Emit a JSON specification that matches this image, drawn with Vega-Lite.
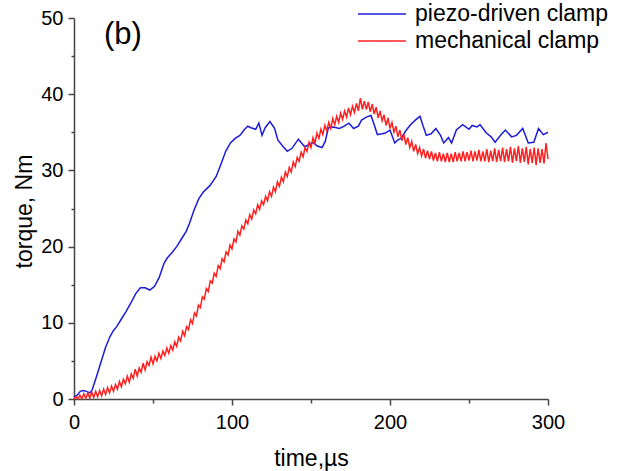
{
  "$schema": "https://vega.github.io/schema/vega-lite/v6.json",
  "width": 474,
  "height": 381,
  "autosize": {"type": "none"},
  "padding": {"left": 74, "top": 18, "right": 79, "bottom": 72},
  "background": "white",
  "config": {
    "view": {"stroke": null},
    "font": "Liberation Sans",
    "axis": {"grid": false, "domainColor": "#444444", "tickColor": "#444444", "domainWidth": 1.5, "tickWidth": 1.5, "labelColor": "black", "titleColor": "black", "labelFont": "Liberation Sans", "titleFont": "Liberation Sans", "labelFontSize": 20, "titleFontSize": 23, "titleFontWeight": "normal", "labelOverlap": false, "labelFlush": false, "tickSize": 6}
  },
  "datasets": {
    "piezo": [
      {"t":0,"v":0.2},{"t":2,"v":0.5},{"t":4,"v":1.0},{"t":6,"v":1.1},{"t":8,"v":1.0},{"t":10,"v":0.8},{"t":11.5,"v":1.2},{"t":14,"v":2.8},{"t":17,"v":4.8},{"t":20,"v":6.8},{"t":22.8,"v":8.2},{"t":25,"v":9.0},{"t":27,"v":9.5},{"t":30,"v":10.5},{"t":33,"v":11.5},{"t":36,"v":12.6},{"t":39,"v":13.8},{"t":42,"v":14.6},{"t":45,"v":14.6},{"t":48,"v":14.3},{"t":51,"v":14.8},{"t":54,"v":16.0},{"t":57,"v":17.8},{"t":59,"v":18.5},{"t":62,"v":19.2},{"t":65,"v":20.0},{"t":68,"v":21.0},{"t":71,"v":22.0},{"t":73,"v":23.0},{"t":76,"v":24.8},{"t":79,"v":26.3},{"t":82,"v":27.2},{"t":86,"v":28.0},{"t":90,"v":29.2},{"t":93,"v":30.8},{"t":96,"v":32.5},{"t":99,"v":33.6},{"t":102,"v":34.2},{"t":105,"v":34.6},{"t":108,"v":35.4},{"t":110,"v":35.8},{"t":112,"v":35.6},{"t":115,"v":35.4},{"t":117,"v":36.2},{"t":119,"v":34.6},{"t":121,"v":35.6},{"t":124,"v":36.4},{"t":127,"v":35.5},{"t":129,"v":34.0},{"t":132,"v":33.2},{"t":135,"v":32.5},{"t":138,"v":32.9},{"t":142,"v":34.1},{"t":144,"v":33.6},{"t":146,"v":33.1},{"t":149,"v":33.4},{"t":151,"v":33.7},{"t":154,"v":33.2},{"t":157,"v":33.0},{"t":159,"v":33.8},{"t":161,"v":35.6},{"t":164,"v":35.7},{"t":168,"v":35.5},{"t":171,"v":35.8},{"t":174,"v":36.2},{"t":177,"v":35.5},{"t":180,"v":35.8},{"t":182,"v":36.6},{"t":185,"v":37.0},{"t":188,"v":37.2},{"t":190,"v":36.0},{"t":192,"v":34.7},{"t":195,"v":34.8},{"t":197,"v":34.9},{"t":200,"v":35.3},{"t":203,"v":33.6},{"t":205,"v":34.0},{"t":207,"v":34.2},{"t":210,"v":35.2},{"t":213,"v":36.0},{"t":216,"v":36.6},{"t":219,"v":37.1},{"t":221,"v":35.8},{"t":223,"v":34.6},{"t":226,"v":34.8},{"t":229,"v":35.5},{"t":232,"v":34.6},{"t":234,"v":33.6},{"t":237,"v":34.3},{"t":239,"v":33.6},{"t":242,"v":35.3},{"t":246,"v":36.0},{"t":250,"v":35.4},{"t":252,"v":35.9},{"t":255,"v":35.7},{"t":257,"v":36.0},{"t":261,"v":34.9},{"t":264,"v":34.4},{"t":266.5,"v":33.7},{"t":270,"v":34.6},{"t":273,"v":35.3},{"t":277,"v":34.4},{"t":280,"v":34.6},{"t":284,"v":35.5},{"t":287.5,"v":33.6},{"t":291,"v":33.7},{"t":294,"v":35.5},{"t":297,"v":34.7},{"t":300,"v":35.0}
    ],
    "mech": [
      {"t":0,"v":0.0},{"t":1.25,"v":0.3},{"t":2.5,"v":0.0},{"t":3.75,"v":0.5},{"t":5,"v":0.0},{"t":6.25,"v":0.7},{"t":7.5,"v":0.1},{"t":8.75,"v":0.8},{"t":10,"v":0.1},{"t":11.25,"v":0.9},{"t":12.5,"v":0.2},{"t":13.75,"v":1.0},{"t":15,"v":0.3},{"t":16.25,"v":1.1},{"t":17.5,"v":0.4},{"t":18.75,"v":1.3},{"t":20,"v":0.6},{"t":21.25,"v":1.5},{"t":22.5,"v":0.8},{"t":23.75,"v":1.7},{"t":25,"v":1.0},{"t":26.25,"v":1.9},{"t":27.5,"v":1.3},{"t":28.75,"v":2.3},{"t":30,"v":1.6},{"t":31.25,"v":2.6},{"t":32.5,"v":2.0},{"t":33.75,"v":3.0},{"t":35,"v":2.2},{"t":36.25,"v":3.3},{"t":37.5,"v":2.7},{"t":38.75,"v":3.9},{"t":40,"v":3.0},{"t":41.25,"v":4.1},{"t":42.5,"v":3.5},{"t":43.75,"v":4.7},{"t":45,"v":3.8},{"t":46.25,"v":4.9},{"t":47.5,"v":4.4},{"t":48.75,"v":5.5},{"t":50,"v":4.6},{"t":51.25,"v":5.6},{"t":52.5,"v":5.0},{"t":53.75,"v":6.0},{"t":55,"v":5.3},{"t":56.25,"v":6.3},{"t":57.5,"v":5.7},{"t":58.75,"v":6.7},{"t":60,"v":6.0},{"t":61.25,"v":7.0},{"t":62.5,"v":6.4},{"t":63.75,"v":7.5},{"t":65,"v":6.9},{"t":66.25,"v":8.1},{"t":67.5,"v":7.6},{"t":68.75,"v":8.9},{"t":70,"v":8.3},{"t":71.25,"v":9.5},{"t":72.5,"v":9.1},{"t":73.75,"v":10.4},{"t":75,"v":9.9},{"t":76.25,"v":11.3},{"t":77.5,"v":10.9},{"t":78.75,"v":12.3},{"t":80,"v":12.0},{"t":81.25,"v":13.4},{"t":82.5,"v":13.1},{"t":83.75,"v":14.5},{"t":85,"v":14.1},{"t":86.25,"v":15.5},{"t":87.5,"v":15.2},{"t":88.75,"v":16.5},{"t":90,"v":16.1},{"t":91.25,"v":17.5},{"t":92.5,"v":17.1},{"t":93.75,"v":18.4},{"t":95,"v":18.0},{"t":96.25,"v":19.3},{"t":97.5,"v":18.9},{"t":98.75,"v":20.2},{"t":100,"v":19.7},{"t":101.25,"v":21.0},{"t":102.5,"v":20.6},{"t":103.75,"v":22.0},{"t":105,"v":21.5},{"t":106.25,"v":22.7},{"t":107.5,"v":22.3},{"t":108.75,"v":23.5},{"t":110,"v":23.0},{"t":111.25,"v":24.2},{"t":112.5,"v":23.6},{"t":113.75,"v":24.8},{"t":115,"v":24.3},{"t":116.25,"v":25.5},{"t":117.5,"v":24.9},{"t":118.75,"v":26.0},{"t":120,"v":25.5},{"t":121.25,"v":26.6},{"t":122.5,"v":26.0},{"t":123.75,"v":27.2},{"t":125,"v":26.6},{"t":126.25,"v":27.8},{"t":127.5,"v":27.2},{"t":128.75,"v":28.5},{"t":130,"v":27.9},{"t":131.25,"v":29.1},{"t":132.5,"v":28.5},{"t":133.75,"v":29.8},{"t":135,"v":29.2},{"t":136.25,"v":30.4},{"t":137.5,"v":29.8},{"t":138.75,"v":31.1},{"t":140,"v":30.5},{"t":141.25,"v":31.7},{"t":142.5,"v":31.2},{"t":143.75,"v":32.4},{"t":145,"v":31.8},{"t":146.25,"v":33.0},{"t":147.5,"v":32.5},{"t":148.75,"v":33.7},{"t":150,"v":33.0},{"t":151.25,"v":34.3},{"t":152.5,"v":33.6},{"t":153.75,"v":34.9},{"t":155,"v":34.2},{"t":156.25,"v":35.4},{"t":157.5,"v":34.7},{"t":158.75,"v":35.9},{"t":160,"v":35.2},{"t":161.25,"v":36.3},{"t":162.5,"v":35.5},{"t":163.75,"v":36.8},{"t":165,"v":36.0},{"t":166.25,"v":37.1},{"t":167.5,"v":36.3},{"t":168.75,"v":37.5},{"t":170,"v":36.7},{"t":171.25,"v":37.8},{"t":172.5,"v":37.0},{"t":173.75,"v":38.2},{"t":175,"v":37.3},{"t":176.25,"v":38.4},{"t":177.5,"v":37.6},{"t":178.75,"v":38.8},{"t":180,"v":37.8},{"t":181.25,"v":39.5},{"t":182.5,"v":38.0},{"t":183.75,"v":39.1},{"t":185,"v":38.0},{"t":186.25,"v":39.0},{"t":187.5,"v":37.7},{"t":188.75,"v":38.7},{"t":190,"v":37.4},{"t":191.25,"v":38.3},{"t":192.5,"v":36.9},{"t":193.75,"v":37.8},{"t":195,"v":36.5},{"t":196.25,"v":37.3},{"t":197.5,"v":35.9},{"t":198.75,"v":36.9},{"t":200,"v":35.5},{"t":201.25,"v":36.3},{"t":202.5,"v":35.0},{"t":203.75,"v":35.8},{"t":205,"v":34.4},{"t":206.25,"v":35.3},{"t":207.5,"v":33.9},{"t":208.75,"v":34.8},{"t":210,"v":33.4},{"t":211.25,"v":34.3},{"t":212.5,"v":33.0},{"t":213.75,"v":33.8},{"t":215,"v":32.5},{"t":216.25,"v":33.4},{"t":217.5,"v":32.2},{"t":218.75,"v":33.0},{"t":220,"v":31.9},{"t":221.25,"v":32.8},{"t":222.5,"v":31.6},{"t":223.75,"v":32.6},{"t":225,"v":31.5},{"t":226.25,"v":32.5},{"t":227.5,"v":31.3},{"t":228.75,"v":32.3},{"t":230,"v":31.2},{"t":231.25,"v":32.4},{"t":232.5,"v":31.2},{"t":233.75,"v":32.2},{"t":235,"v":31.1},{"t":236.25,"v":32.3},{"t":237.5,"v":31.1},{"t":238.75,"v":32.2},{"t":240,"v":31.1},{"t":241.25,"v":32.4},{"t":242.5,"v":31.2},{"t":243.75,"v":32.3},{"t":245,"v":31.2},{"t":246.25,"v":32.5},{"t":247.5,"v":31.2},{"t":248.75,"v":32.4},{"t":250,"v":31.3},{"t":251.25,"v":32.6},{"t":252.5,"v":31.2},{"t":253.75,"v":32.5},{"t":255,"v":31.3},{"t":256.25,"v":32.7},{"t":257.5,"v":31.2},{"t":258.75,"v":32.5},{"t":260,"v":31.2},{"t":261.25,"v":32.8},{"t":262.5,"v":31.1},{"t":263.75,"v":32.6},{"t":265,"v":31.2},{"t":266.25,"v":32.9},{"t":267.5,"v":31.1},{"t":268.75,"v":32.7},{"t":270,"v":31.2},{"t":271.25,"v":33.0},{"t":272.5,"v":31.1},{"t":273.75,"v":32.8},{"t":275,"v":31.2},{"t":276.25,"v":33.1},{"t":277.5,"v":31.0},{"t":278.75,"v":32.9},{"t":280,"v":31.2},{"t":281.25,"v":33.2},{"t":282.5,"v":31.0},{"t":283.75,"v":32.9},{"t":285,"v":31.1},{"t":286.25,"v":33.1},{"t":287.5,"v":30.8},{"t":288.75,"v":32.8},{"t":290,"v":31.0},{"t":291.25,"v":33.0},{"t":292.5,"v":30.7},{"t":293.75,"v":32.9},{"t":295,"v":31.0},{"t":296.25,"v":32.8},{"t":297.5,"v":30.9},{"t":298.75,"v":33.6},{"t":300,"v":31.5}
    ],
    "annot": [{"t": 19, "v": 46.6, "label": "(b)"}]
  },
  "encoding": {
    "x": {
      "field": "t", "type": "quantitative",
      "scale": {"domain": [0, 300], "nice": false, "zero": false},
      "axis": {
        "values": [0, 50, 100, 150, 200, 250, 300],
        "labelExpr": "datum.value % 100 === 0 ? datum.label : ''",
        "tickSize": {"condition": {"test": "datum.value % 100 === 0", "value": 6}, "value": 4},
        "labelPadding": 7,
        "title": "time,µs",
        "titleY": 66,
        "titleBaseline": "alphabetic"
      }
    },
    "y": {
      "field": "v", "type": "quantitative",
      "scale": {"domain": [0, 50], "nice": false, "zero": false},
      "axis": {
        "values": [0, 5, 10, 15, 20, 25, 30, 35, 40, 45, 50],
        "labelExpr": "datum.value % 10 === 0 ? datum.label : ''",
        "tickSize": {"condition": {"test": "datum.value % 10 === 0", "value": 6}, "value": 3},
        "labelPadding": 5,
        "title": "torque, Nm",
        "titleX": -43,
        "titleY": 193,
        "titleBaseline": "alphabetic",
        "titleAngle": 270,
        "titleAlign": "center"
      }
    }
  },
  "layer": [
    {
      "data": {"name": "piezo"},
      "mark": {"type": "line", "strokeWidth": 1.5},
      "encoding": {
        "color": {
          "datum": "piezo-driven clamp", "type": "nominal",
          "scale": {"domain": ["piezo-driven clamp", "mechanical clamp"], "range": ["#1c1cd8", "#ff2020"]},
          "legend": {
            "orient": "none", "legendX": 295, "legendY": -17, "title": null,
            "symbolType": "M-2,0H2", "symbolSize": 576, "symbolStrokeWidth": 1.5,
            "labelFontSize": 23, "labelFont": "Liberation Sans", "labelColor": "black",
            "labelOffset": 20, "padding": 0, "rowPadding": 2, "labelLimit": 400
          }
        }
      }
    },
    {
      "data": {"name": "mech"},
      "mark": {"type": "line", "strokeWidth": 1.5},
      "encoding": {
        "color": {"datum": "mechanical clamp", "type": "nominal"}
      }
    },
    {
      "data": {"name": "annot"},
      "mark": {"type": "text", "align": "left", "baseline": "alphabetic", "fontSize": 31, "font": "Liberation Sans", "color": "black"},
      "encoding": {"text": {"field": "label"}}
    }
  ]
}
